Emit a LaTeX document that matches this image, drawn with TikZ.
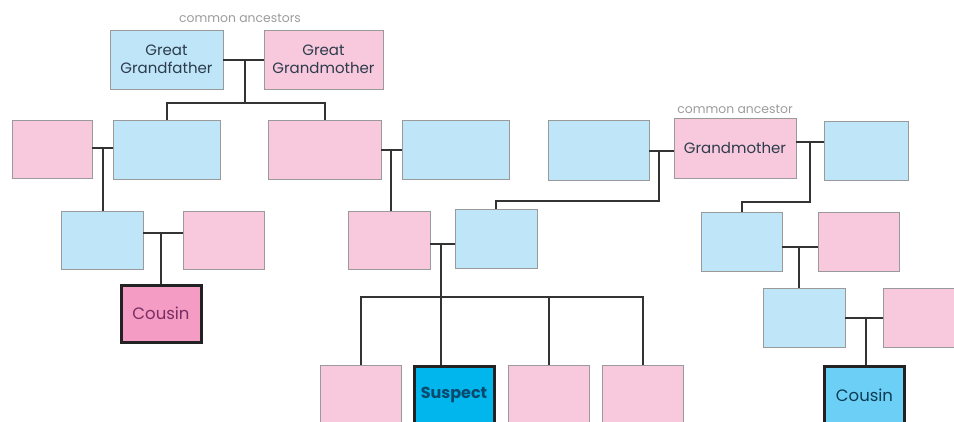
\documentclass[tikz,border=0pt]{standalone}
\usepackage{fontspec}
\setmainfont{Poppins}
\definecolor{lb}{HTML}{BEE5F8}
\definecolor{lp}{HTML}{F8C9DD}
\definecolor{bd}{HTML}{9A9A9A}
\definecolor{ln}{HTML}{333333}
\definecolor{cp}{HTML}{F49CC3}
\definecolor{cb}{HTML}{6CCFF6}
\definecolor{sb}{HTML}{00B6EC}
\definecolor{tx}{HTML}{2C3C4C}
\definecolor{gy}{HTML}{9C9C9C}
\definecolor{tcl}{HTML}{7A2E62}
\definecolor{tsus}{HTML}{0B4A6F}
\definecolor{tcr}{HTML}{0D3C55}
\definecolor{kb}{HTML}{222222}
\begin{document}
\begin{tikzpicture}[x=1pt,y=-1pt,
  bx/.style={draw=bd,line width=0.8pt,inner sep=0pt,align=center,text=tx,
    font=\fontsize{15}{18.5}\selectfont},
  blu/.style={bx,fill=lb},
  pnk/.style={bx,fill=lp},
  key/.style={draw=kb,line width=3pt,inner sep=0pt,font=\fontsize{16.5}{19}\selectfont},
  wire/.style={draw=ln,line width=2pt},
  lbl/.style={text=gy,font=\fontsize{12.4}{14}\selectfont,inner sep=0pt}]
\useasboundingbox (0,0) rectangle (954,421);
\clip (0,0) rectangle (954,421);
% labels
\node[lbl] (l1) at (240,18) {common ancestors};
\node[lbl] (l2) at (735,109) {common ancestor};
% top generation
\node[blu,minimum width=113pt,minimum height=59pt] (ggf) at (166.5,59.5) {Great\\Grandfather};
\node[pnk,minimum width=119pt,minimum height=59pt] (ggm) at (323.5,59.5) {Great\\Grandmother};
% second row
\node[pnk,minimum width=80pt,minimum height=58pt] (p1) at (52,149) {};
\node[blu,minimum width=107pt,minimum height=59pt] (b1) at (166.5,149.5) {};
\node[pnk,minimum width=113pt,minimum height=59pt] (p2) at (324.5,149.5) {};
\node[blu,minimum width=107pt,minimum height=59pt] (b2) at (455.5,149.5) {};
\node[blu,minimum width=101pt,minimum height=60pt] (b3) at (598.5,150) {};
\node[pnk,minimum width=122pt,minimum height=60pt] (gm) at (735,148) {Grandmother};
\node[blu,minimum width=84pt,minimum height=59pt] (b4) at (866,150.5) {};
% third row
\node[blu,minimum width=82pt,minimum height=58pt] (b5) at (102,240) {};
\node[pnk,minimum width=81pt,minimum height=58pt] (p3) at (223.5,240) {};
\node[pnk,minimum width=82pt,minimum height=58pt] (p4) at (389,240) {};
\node[blu,minimum width=82pt,minimum height=59pt] (b6) at (496,238.5) {};
\node[blu,minimum width=81pt,minimum height=59pt] (b7) at (741.5,241.5) {};
\node[pnk,minimum width=81pt,minimum height=59pt] (p5) at (858.5,241.5) {};
% fourth row
\node[key,fill=cp,text=tcl,minimum width=80pt,minimum height=57pt] (cl) at (161,313.5) {Cousin};
\node[blu,minimum width=82pt,minimum height=59pt] (b8) at (804,317.5) {};
\node[pnk,minimum width=80pt,minimum height=59pt] (p6) at (923,317.5) {};
% bottom row
\node[pnk,minimum width=81pt,minimum height=60pt] (k1) at (360.5,395) {};
\node[key,fill=sb,text=tsus,minimum width=80pt,minimum height=58pt,font=\fontsize{16}{19}\selectfont\bfseries] (sus) at (454,395) {Suspect};
\node[pnk,minimum width=81pt,minimum height=60pt] (k3) at (548.5,395) {};
\node[pnk,minimum width=81pt,minimum height=60pt] (k4) at (642.5,395) {};
\node[key,fill=cb,text=tcr,minimum width=80pt,minimum height=58pt] (cr) at (864.5,395) {Cousin};
% junction coordinates
\coordinate (m0) at (245,59.5);
\coordinate (j0) at (245,103);
\coordinate (m1) at (103,148);
\coordinate (m2) at (391,150);
\coordinate (m3) at (659,151);
\coordinate (j3) at (659,201);
\coordinate (m4) at (810,142);
\coordinate (j4) at (810,202);
\coordinate (m5) at (161,233);
\coordinate (m6) at (441,244);
\coordinate (j6) at (441,297);
\coordinate (m7) at (799,247);
\coordinate (m8) at (866,318);
% connectors
\draw[wire] (ggf.east) -- (ggm.west);
\draw[wire] (m0) -- (j0);
\draw[wire] (b1.north) |- (j0) -| (p2.north);
\draw[wire] (p1.east |- m1) -- (b1.west |- m1);
\draw[wire] (m1) -- (m1 |- b5.north);
\draw[wire] (p2.east |- m2) -- (b2.west |- m2);
\draw[wire] (m2) -- (m2 |- p4.north);
\draw[wire] (b3.east |- m3) -- (gm.west |- m3);
\draw[wire] (m3) -- (j3) -| (b6.north);
\draw[wire] (gm.east |- m4) -- (b4.west |- m4);
\draw[wire] (m4) -- (j4) -| (b7.north);
\draw[wire] (b5.east |- m5) -- (p3.west |- m5);
\draw[wire] (m5) -- (cl.north);
\draw[wire] (p4.east |- m6) -- (b6.west |- m6);
\draw[wire] (m6) -- (j6);
\draw[wire] (k1.north) |- (j6);
\draw[wire] (j6) -- (j6 |- sus.north);
\draw[wire] (j6) -| (k3.north);
\draw[wire] (j6) -| (k4.north);
\draw[wire] (b7.east |- m7) -- (p5.west |- m7);
\draw[wire] (m7) -- (m7 |- b8.north);
\draw[wire] (b8.east |- m8) -- (p6.west |- m8);
\draw[wire] (m8) -- (m8 |- cr.north);
\end{tikzpicture}
\end{document}
